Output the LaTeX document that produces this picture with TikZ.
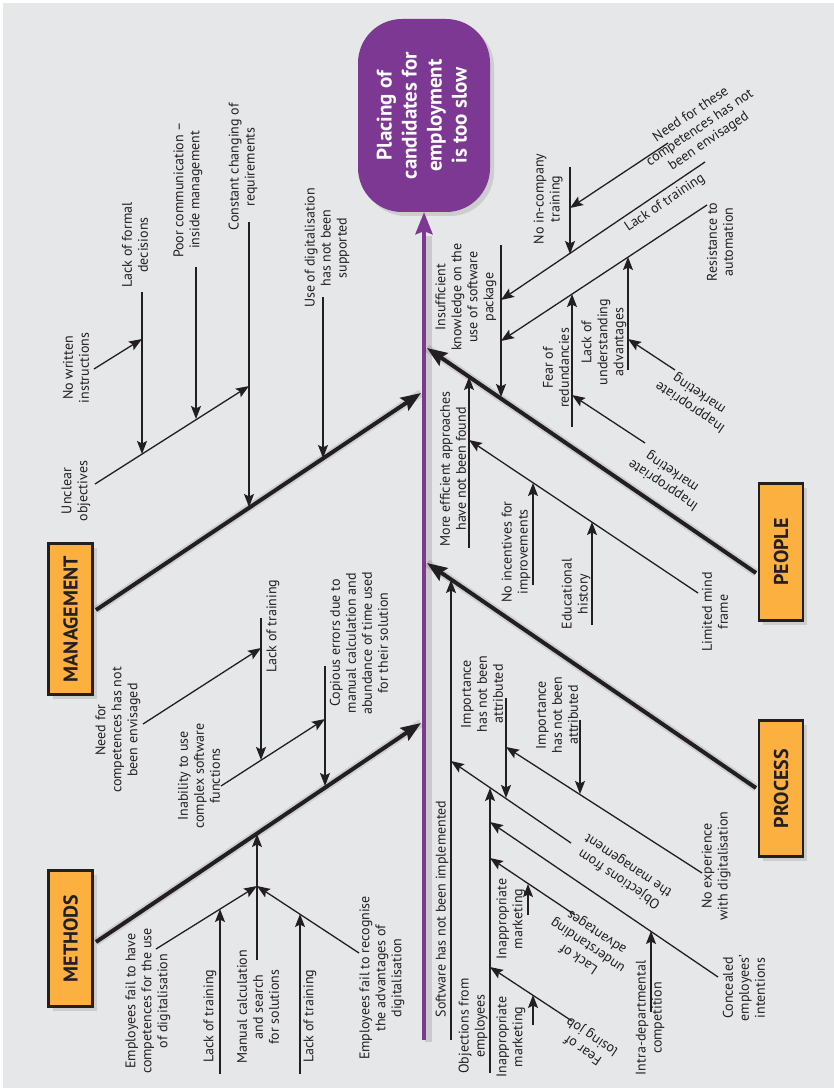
\documentclass[tikz,border=0pt]{standalone}
\usepackage{fontspec}
\setmainfont{PT Sans}
\usetikzlibrary{arrows.meta,shadows}
\definecolor{bg}{RGB}{230,231,232}
\definecolor{ink}{RGB}{35,31,32}
\definecolor{boxorange}{RGB}{251,176,64}
\definecolor{headpurple}{RGB}{124,56,146}

\begin{document}
\begin{tikzpicture}[x=1pt,y=-1pt,
  txt/.style={font=\fontsize{14}{16}\selectfont, text=ink, align=center, inner sep=0pt},
  lbl/.style={txt, rotate=90},
  catbox/.style={draw=ink, line width=2.8pt, fill=boxorange, minimum width=44pt, inner sep=0pt,
    font=\fontsize{20}{24}\selectfont\bfseries, text=ink,
    drop shadow={shadow xshift=4pt, shadow yshift=-4pt, opacity=0.25}},
  headbox/.style={fill=headpurple, rounded corners=44pt, minimum width=132pt, minimum height=193pt,
    inner sep=0pt, text=white, font=\fontsize{21}{25}\selectfont\bfseries,
    drop shadow={shadow xshift=4pt, shadow yshift=-4pt, opacity=0.25}},
  cause/.style={draw=ink, line width=1.3pt, -{Stealth[length=13pt,width=10pt,inset=2.5pt]}},
  bone/.style={draw=ink, line width=4pt, -{Stealth[length=20pt,width=15pt,inset=3pt]}},
  boneshadow/.style={draw=black, line width=8pt, opacity=0.10, shift={(3,5)}},
]
\useasboundingbox (0,0) rectangle (834,1091);
\fill[white] (0,0) rectangle (834,1091);
\fill[bg] (3,3) rectangle (834,1088);

% ---------- head and spine ----------
\node[headbox] (head) at (424,115.5)
  {\rotatebox{90}{\begin{tabular}{@{}c@{}}Placing of\\candidates for\\employment\\is too slow\end{tabular}}};
\coordinate (sp1) at (424,1040);
\draw[draw=black, opacity=0.12, line width=7pt] (428,1042) -- (428,236);
\draw[draw=headpurple, line width=4pt, -{Stealth[length=22pt,width=17pt,inset=3pt]}] (sp1) -- (head.south);

% ---------- category boxes ----------
\node[catbox, minimum height=151pt] (mgmt) at (70.5,619) {\rotatebox{90}{MANAGEMENT}};
\node[catbox, minimum height=136pt] (meth) at (70.5,938.5) {\rotatebox{90}{METHODS}};
\node[catbox, minimum height=137pt] (ppl)  at (781,552) {\rotatebox{90}{PEOPLE}};
\node[catbox, minimum height=136pt] (proc) at (781,788.5) {\rotatebox{90}{PROCESS}};

% ---------- main bones ----------
\coordinate (mA) at (96,610);  \coordinate (mB) at (421,393);
\coordinate (eA) at (96,942);  \coordinate (eB) at (421,723);
\coordinate (pA) at (756,573); \coordinate (pB) at (427,348);
\coordinate (rA) at (756,788); \coordinate (rB) at (427,563);
\foreach \s/\t in {mA/mB,eA/eB,pA/pB,rA/rB}{\draw[boneshadow] (\s) -- (\t);}
\draw[bone] (mA) -- (mB);
\draw[bone] (eA) -- (eB);
\draw[bone] (pA) -- (pB);
\draw[bone] (rA) -- (rB);

% ---------- MANAGEMENT causes ----------
\coordinate (uo1) at (95,484);  \coordinate (uo2) at (249,386);
\coordinate (lf1) at (142,292); \coordinate (lf2) at (142,454);
\coordinate (nw1) at (94,369);  \coordinate (nw2) at (142,339);
\coordinate (pc1) at (196,267); \coordinate (pc2) at (196,419);
\coordinate (cc1) at (249,222); \coordinate (cc2) at (249,507);
\coordinate (ud1) at (323,297); \coordinate (ud2) at (323,458);
\draw[cause] (uo1) -- (uo2);
\draw[cause] (lf1) -- (lf2);
\draw[cause] (nw1) -- (nw2);
\draw[cause] (pc1) -- (pc2);
\draw[cause] (cc1) -- (cc2);
\draw[cause] (ud1) -- (ud2);
\node[lbl] (tUO) at (76,491) {Unclear\\objectives};
\node[lbl] (tNW) at (76,368) {No written\\instructions};
\node[lbl] (tLF) at (135,245) {Lack of formal\\decisions};
\node[lbl] (tPC) at (188,190) {Poor communication –\\inside management};
\node[lbl] (tCC) at (243,167) {Constant changing of\\requirements};
\node[lbl] (tUD) at (327,248) {Use of digitalisation\\has not been\\supported};

% ---------- METHODS causes ----------
\coordinate (nc1) at (143,724); \coordinate (nc2) at (261,648);
\coordinate (lt1) at (261,618); \coordinate (lt2) at (261,760);
\coordinate (iu1) at (221,786); \coordinate (iu2) at (325,719);
\coordinate (ce1) at (325,666); \coordinate (ce2) at (325,786);
\coordinate (mc1) at (257,960); \coordinate (mc2) at (257,834);
\coordinate (mj)  at (257,886);
\coordinate (eh1) at (156,949); \coordinate (er1) at (359,953);
\coordinate (la1) at (220,1074); \coordinate (la2) at (220,909);
\coordinate (lb1) at (300,1074); \coordinate (lb2) at (300,914);
\draw[cause] (nc1) -- (nc2);
\draw[cause] (lt1) -- (lt2);
\draw[cause] (iu1) -- (iu2);
\draw[cause] (ce1) -- (ce2);
\draw[cause] (mc1) -- (mc2);
\draw[cause] (eh1) -- (mj);
\draw[cause] (er1) -- (mj);
\draw[cause] (la1) -- (la2);
\draw[cause] (lb1) -- (lb2);
\node[lbl] (tNC) at (118,730) {Need for\\competences has not\\been envisaged};
\node[lbl] (tIU) at (199,776) {Inability to use\\complex software\\functions};
\node[lbl] (tLT) at (273,626) {Lack of training};
\node[lbl] (tCE) at (359,643) {Copious errors due to\\manual calculation and\\abundance of time used\\for their solution};
\node[lbl] (tEH) at (148,1001) {Employees fail to have\\competences for the use\\of digitalisation};
\node[lbl] (tLA) at (210,1016) {Lack of training};
\node[lbl] (tMC) at (258,1007) {Manual calculation\\and search\\for solutions};
\node[lbl] (tLB) at (310,1016) {Lack of training};
\node[lbl] (tER) at (382,978) {Employees fail to recognise\\the advantages of\\digitalisation};

% ---------- PEOPLE causes ----------
\coordinate (ik1) at (501,245); \coordinate (ik2) at (501,397);
\coordinate (d1a) at (705,162); \coordinate (d1b) at (501,300);
\coordinate (d2a) at (707,205); \coordinate (d2b) at (501,341);
\coordinate (nt1) at (668,143); \coordinate (nt2) at (570,208);
\coordinate (ni1) at (570,167); \coordinate (ni2) at (570,254);
\coordinate (fr1) at (572,427); \coordinate (fr2) at (572,294);
\coordinate (lu1) at (628,370); \coordinate (lu2) at (628,257);
\coordinate (ia1) at (675,370); \coordinate (ia2) at (628,339);
\coordinate (ib1) at (645,443); \coordinate (ib2) at (572,395);
\coordinate (me1) at (469,548); \coordinate (me2) at (469,377);
\coordinate (lm1) at (698,593); \coordinate (lm2) at (469,440);
\coordinate (nf1) at (533,585); \coordinate (nf2) at (533,483);
\coordinate (ed1) at (592,625); \coordinate (ed2) at (592,522);
\draw[cause] (ik1) -- (ik2);
\draw[cause] (d1a) -- (d1b);
\draw[cause] (d2a) -- (d2b);
\draw[cause] (nt1) -- (nt2);
\draw[cause] (ni1) -- (ni2);
\draw[cause] (fr1) -- (fr2);
\draw[cause] (lu1) -- (lu2);
\draw[cause] (ia1) -- (ia2);
\draw[cause] (ib1) -- (ib2);
\draw[cause] (me1) -- (me2);
\draw[cause] (lm1) -- (lm2);
\draw[cause] (nf1) -- (nf2);
\draw[cause] (ed1) -- (ed2);
\node[lbl] (tIK) at (466,297) {Insufficient\\knowledge on the\\use of software\\package};
\node[lbl] (tNI) at (548,199) {No in-company\\training};
\node[txt, rotate=34] (tNT) at (700,128) {Need for these\\competences has not\\been envisaged};
\node[txt, rotate=34] (tLP) at (665,203) {Lack of training};
\node[lbl] (tRA) at (720,242) {Resistance to\\automation};
\node[lbl] (tFR) at (556,368) {Fear of\\redundancies};
\node[lbl] (tLU) at (604,342) {Lack of\\understanding\\advantages};
\node[txt, rotate=146] (tIA) at (695,400) {Inappropriate\\marketing};
\node[txt, rotate=146] (tIB) at (668,478) {Inappropriate\\marketing};
\node[lbl] (tME) at (453,469) {More efficient approaches\\have not been found};
\node[lbl] (tNF) at (516,552) {No incentives for\\improvements};
\node[lbl] (tED) at (576,594) {Educational\\history};
\node[lbl] (tLM) at (715,612) {Limited mind\\frame};

% ---------- PROCESS causes ----------
\coordinate (sw1) at (451,1040); \coordinate (sw2) at (451,580);
\coordinate (om1) at (571,843);  \coordinate (om2) at (451,761);
\coordinate (nx1) at (702,873);  \coordinate (nx2) at (506,747);
\coordinate (im1) at (506,698);  \coordinate (im2) at (506,798);
\coordinate (jm1) at (580,720);  \coordinate (jm2) at (580,794);
\coordinate (oe1) at (490,1073); \coordinate (oe2) at (490,788);
\coordinate (cn1) at (718,977);  \coordinate (cn2) at (490,822);
\coordinate (ua1) at (575,915);  \coordinate (ua2) at (490,858);
\coordinate (fj1) at (572,1021); \coordinate (fj2) at (490,967);
\coordinate (id1) at (651,1012); \coordinate (id2) at (651,931);
\coordinate (ma1) at (528,915);  \coordinate (ma2) at (528,884);
\coordinate (mb1) at (533,1025); \coordinate (mb2) at (533,995);
\draw[cause] (sw1) -- (sw2);
\draw[cause] (om1) -- (om2);
\draw[cause] (nx1) -- (nx2);
\draw[cause] (im1) -- (im2);
\draw[cause] (jm1) -- (jm2);
\draw[cause] (oe1) -- (oe2);
\draw[cause] (cn1) -- (cn2);
\draw[cause] (ua1) -- (ua2);
\draw[cause] (fj1) -- (fj2);
\draw[cause] (id1) -- (id2);
\draw[cause] (ma1) -- (ma2);
\draw[cause] (mb1) -- (mb2);
\node[lbl] (tSW) at (442,909) {Software has not been implemented};
\node[lbl] (tIM) at (482,694) {Importance\\has not been\\attributed};
\node[lbl] (tJM) at (557,715) {Importance\\has not been\\attributed};
\node[lbl] (tNX) at (716,866) {No experience\\with digitalisation};
\node[txt, rotate=146] (tOM) at (624,872) {Objections from\\the management};
\node[lbl] (tCN) at (744,988) {Concealed\\employees'\\intentions};
\node[lbl] (tID) at (650,1018) {Intra-departmental\\competition};
\node[lbl] (tMA) at (511,919) {Inappropriate\\marketing};
\node[txt, rotate=146] (tUA) at (588,945) {Lack of\\understanding\\advantages};
\node[lbl] (tOE) at (473,1026) {Objections from\\employees};
\node[lbl] (tMB) at (511,1037) {Inappropriate\\marketing};
\node[txt, rotate=146] (tFJ) at (588,1043) {Fear of\\losing job};
\end{tikzpicture}
\end{document}
